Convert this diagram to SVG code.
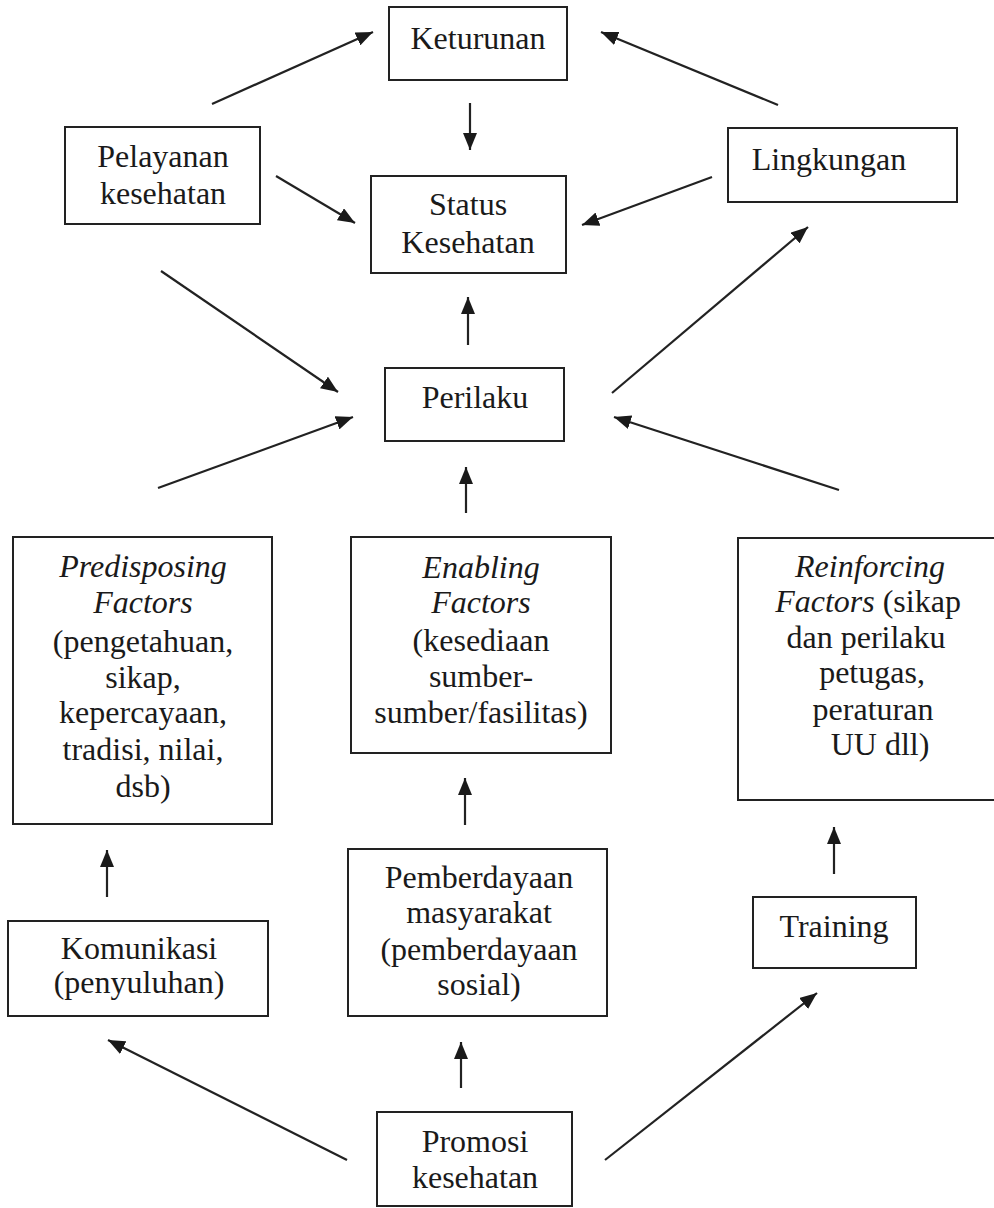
<svg xmlns="http://www.w3.org/2000/svg" width="994" height="1208" viewBox="0 0 994 1208">
<style>
.box{fill:#fff;stroke:#222;stroke-width:2}
.t{font-family:"Liberation Serif","Times New Roman",serif;font-size:32px;fill:#1a1a1a;text-anchor:middle}
.i{font-style:italic}
.c{stroke:#222;stroke-width:2.2;fill:none;marker-end:url(#ah)}
</style>
<defs>
<marker id="ah" markerUnits="userSpaceOnUse" markerWidth="18" markerHeight="14" refX="17" refY="7" orient="auto">
<path d="M0,0 L17,7 L0,14 z" fill="#1a1a1a"/>
</marker>
</defs>
<rect width="994" height="1208" fill="#fff"/>
<g id="connectors">
<line class="c" x1="212" y1="104" x2="373" y2="32"/>
<line class="c" x1="778" y1="105" x2="601" y2="32"/>
<line class="c" x1="470" y1="103" x2="470" y2="150"/>
<line class="c" x1="276" y1="176" x2="355" y2="223"/>
<line class="c" x1="712" y1="177" x2="582" y2="225"/>
<line class="c" x1="468" y1="345" x2="468" y2="297"/>
<line class="c" x1="161" y1="271" x2="338" y2="392"/>
<line class="c" x1="612" y1="393" x2="808" y2="227"/>
<line class="c" x1="158" y1="488" x2="353" y2="417"/>
<line class="c" x1="466" y1="513" x2="466" y2="467"/>
<line class="c" x1="839" y1="490" x2="614" y2="417"/>
<line class="c" x1="465" y1="825" x2="465" y2="778"/>
<line class="c" x1="107" y1="897" x2="107" y2="850"/>
<line class="c" x1="834" y1="874" x2="834" y2="827"/>
<line class="c" x1="347" y1="1160" x2="108" y2="1040"/>
<line class="c" x1="461" y1="1088" x2="461" y2="1042"/>
<line class="c" x1="605" y1="1160" x2="817" y2="993"/>
</g>
<g id="keturunan">
<rect class="box" x="389" y="7" width="178" height="73"/>
<text class="t" x="478" y="49">Keturunan</text>
</g>
<g id="pelayanan">
<rect class="box" x="65" y="127" width="195" height="97"/>
<text class="t" x="163" y="167">Pelayanan</text>
<text class="t" x="163" y="204">kesehatan</text>
</g>
<g id="status">
<rect class="box" x="371" y="176" width="195" height="97"/>
<text class="t" x="468" y="215">Status</text>
<text class="t" x="468" y="253">Kesehatan</text>
</g>
<g id="lingkungan">
<rect class="box" x="728" y="128" width="229" height="74"/>
<text class="t" x="829" y="170">Lingkungan</text>
</g>
<g id="perilaku">
<rect class="box" x="385" y="368" width="179" height="73"/>
<text class="t" x="475" y="408">Perilaku</text>
</g>
<g id="predisposing">
<rect class="box" x="13" y="537" width="259" height="287"/>
<text class="t i" x="143" y="577">Predisposing</text>
<text class="t i" x="143" y="613">Factors</text>
<text class="t" x="143" y="652">(pengetahuan,</text>
<text class="t" x="143" y="688">sikap,</text>
<text class="t" x="143" y="723">kepercayaan,</text>
<text class="t" x="143" y="760">tradisi, nilai,</text>
<text class="t" x="143" y="797">dsb)</text>
</g>
<g id="enabling">
<rect class="box" x="351" y="537" width="260" height="216"/>
<text class="t i" x="481" y="578">Enabling</text>
<text class="t i" x="481" y="613">Factors</text>
<text class="t" x="481" y="651">(kesediaan</text>
<text class="t" x="481" y="687">sumber-</text>
<text class="t" x="481" y="723">sumber/fasilitas)</text>
</g>
<g id="reinforcing">
<rect class="box" x="738" y="538" width="270" height="262"/>
<text class="t i" x="870" y="577">Reinforcing</text>
<text class="t" x="868" y="612"><tspan class="i" font-style="italic">Factors</tspan> (sikap</text>
<text class="t" x="866" y="648">dan perilaku</text>
<text class="t" x="872" y="683">petugas,</text>
<text class="t" x="873" y="720">peraturan</text>
<text class="t" x="880" y="755">UU dll)</text>
</g>
<g id="komunikasi">
<rect class="box" x="8" y="921" width="260" height="95"/>
<text class="t" x="139" y="959">Komunikasi</text>
<text class="t" x="139" y="993">(penyuluhan)</text>
</g>
<g id="pemberdayaan">
<rect class="box" x="348" y="849" width="259" height="167"/>
<text class="t" x="479" y="888">Pemberdayaan</text>
<text class="t" x="479" y="923">masyarakat</text>
<text class="t" x="479" y="960">(pemberdayaan</text>
<text class="t" x="479" y="995">sosial)</text>
</g>
<g id="training">
<rect class="box" x="753" y="897" width="163" height="71"/>
<text class="t" x="834" y="937">Training</text>
</g>
<g id="promosi">
<rect class="box" x="377" y="1112" width="195" height="94"/>
<text class="t" x="475" y="1152">Promosi</text>
<text class="t" x="475" y="1188">kesehatan</text>
</g>
</svg>
